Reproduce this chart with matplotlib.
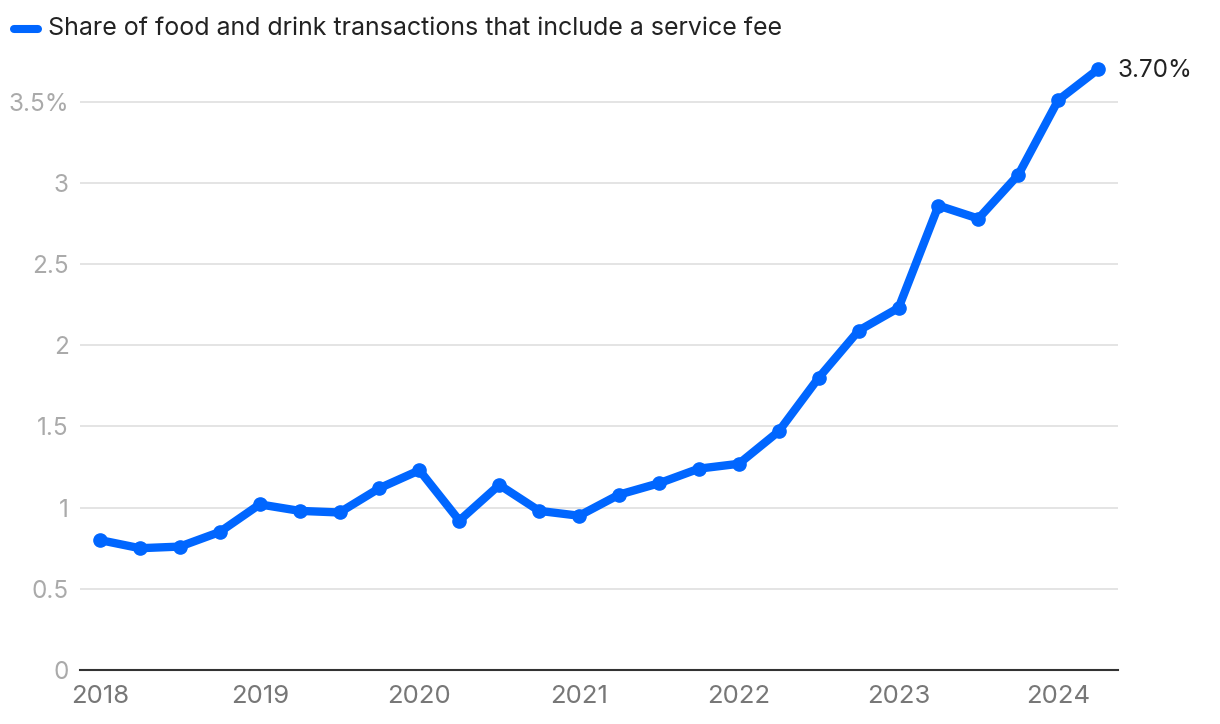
import numpy as np
import matplotlib.pyplot as plt

plt.rcParams['font.family'] = ['Inter', 'DejaVu Sans']

# quarterly points, 2018 Q1 .. 2024 Q2
quarters = [2018 + i * 0.25 for i in range(26)]
share = [0.80, 0.75, 0.76, 0.85, 1.02, 0.98, 0.97, 1.12, 1.23, 0.92,
         1.14, 0.98, 0.95, 1.08, 1.15, 1.24, 1.27, 1.47, 1.80, 2.09,
         2.23, 2.86, 2.78, 3.05, 3.51, 3.70]
year_ticks = [2018, 2019, 2020, 2021, 2022, 2023, 2024]
y_ticks = [0, 0.5, 1, 1.5, 2, 2.5, 3, 3.5]
y_labels = ['0', '0.5', '1', '1.5', '2', '2.5', '3', '3.5%']
series_name = 'Share of food and drink transactions that include a service fee'

blue = '#0066ff'

fig = plt.figure(figsize=(12.2, 7.24), dpi=100)
ax = fig.add_axes([0.0656, 0.0746, 0.8508, 0.8522])

ax.plot(quarters, share, color=blue, lw=6, marker='o', ms=9.5,
        solid_capstyle='round', solid_joinstyle='round', zorder=3)
ax.annotate('3.70%', (quarters[-1], share[-1]), xytext=(14, -1),
            textcoords='offset points', va='center', ha='left',
            fontsize=17.5, color='#222222')

ax.set_xlim(2017.875, 2024.374)
ax.set_ylim(0, 3.8)
ax.set_yticks(y_ticks)
ax.set_yticklabels(y_labels)
ax.set_xticks(year_ticks)
ax.set_xticklabels([str(y) for y in year_ticks])
ax.grid(axis='y', color='#e2e2e2', lw=1.3)
ax.set_axisbelow(True)

for s in ['top', 'right', 'left']:
    ax.spines[s].set_visible(False)
ax.spines['bottom'].set_color('#333333')
ax.spines['bottom'].set_linewidth(1.5)
ax.tick_params(axis='y', length=0, pad=8, labelsize=17.5, labelcolor='#aaaaaa')
ax.tick_params(axis='x', length=0, pad=11, labelsize=18.5, labelcolor='#777777')

# legend drawn manually at top left
fig.add_artist(plt.Line2D([0.0115, 0.031], [0.96, 0.96], color=blue, lw=5.8,
                          solid_capstyle='round', transform=fig.transFigure))
fig.text(0.039, 0.96, series_name, fontsize=18, color='#222222', va='center', ha='left')

fig.savefig('out.png', dpi=100)
